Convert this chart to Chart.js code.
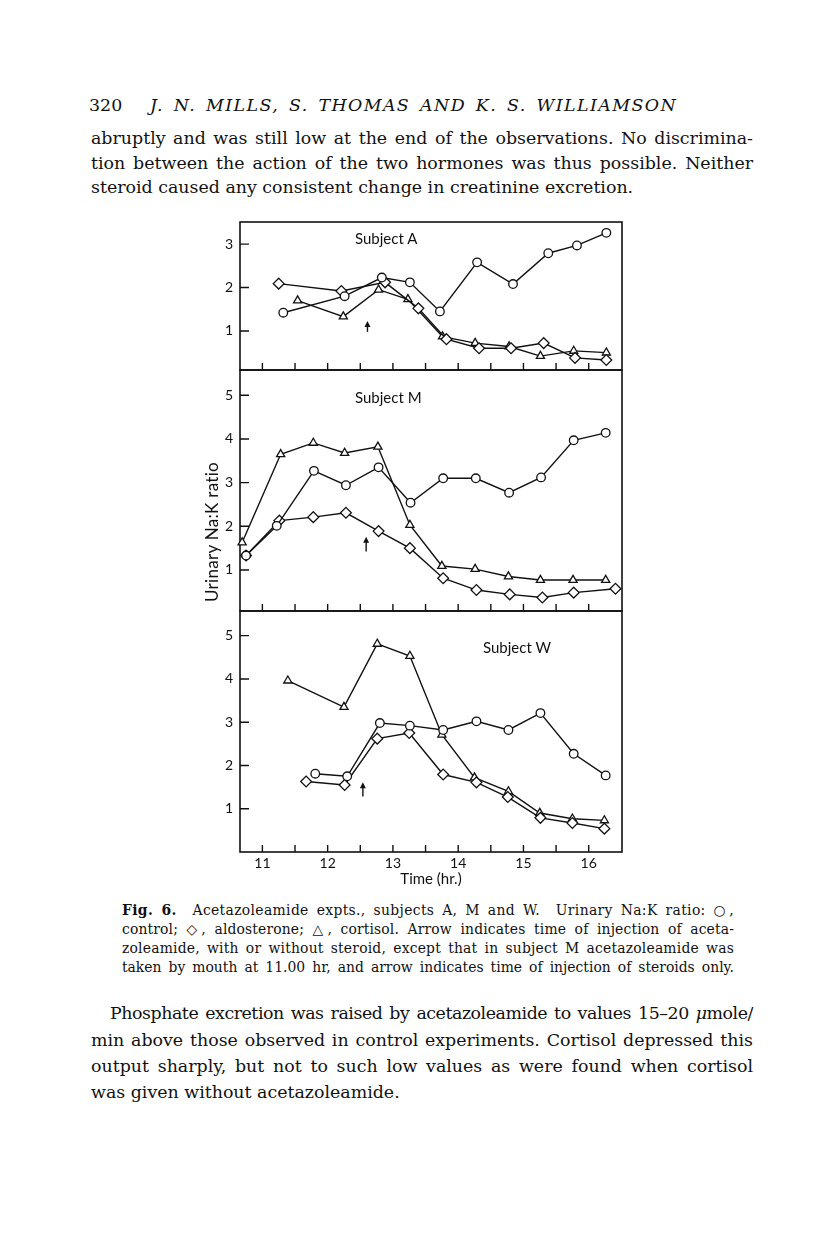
<!DOCTYPE html>
<html>
<head>
<meta charset="utf-8">
<script src="https://cdn.jsdelivr.net/npm/chart.js@4.4.1/dist/chart.umd.min.js"></script>
<style>
  body { margin: 0; width: 816px; height: 1258px; background: #fff; position: relative; overflow: hidden;
         font-family: "DejaVu Serif", serif; color: #111; }
  .line { position: absolute; text-align: justify; text-align-last: justify; white-space: normal; }
  .plain { position: absolute; white-space: nowrap; }
  .body { font-size: 17.4px; line-height: 20px; }
  .cap { font-size: 13.9px; line-height: 16px; }
  .sans { position: absolute; white-space: nowrap; font-family: Lato, sans-serif; font-size: 15px; line-height: 16px; color: #111; }
  canvas { position: absolute; }
</style>
</head>
<body>

<div class="plain body" style="left:89px; top:95px;">320</div>
<div class="line body" style="left:150px; top:95px; width:527px; letter-spacing:1.4px;"><i>J. N. MILLS, S. THOMAS AND K. S. WILLIAMSON</i></div>
<div class="line body" style="left:91px; top:128px; width:662px;">abruptly and was still low at the end of the observations. No discrimina-</div>
<div class="line body" style="left:91px; top:153px; width:662px;">tion between the action of the two hormones was thus possible. Neither</div>
<div class="plain body" style="left:91px; top:177px;">steroid caused any consistent change in creatinine excretion.</div>

<canvas id="chartA" width="450" height="170" style="left:190px; top:212px;"></canvas>
<canvas id="chartM" width="450" height="262" style="left:190px; top:360px;"></canvas>
<canvas id="chartW" width="450" height="300" style="left:190px; top:601px;"></canvas>

<div class="sans" style="left:355px; top:230px;">Subject A</div>
<div class="sans" style="left:355px; top:389px;">Subject M</div>
<div class="sans" style="left:483px; top:639px;">Subject W</div>
<div class="sans" style="left:212px; top:532px; font-size:17px; letter-spacing:0.3px; transform:translate(-50%,-50%) rotate(-90deg);">Urinary Na:K ratio</div>

<div class="line cap" style="left:122px; top:902px; width:612px; letter-spacing:0.35px;"><b>Fig. 6.</b>&nbsp; Acetazoleamide expts., subjects A, M and W.&nbsp; Urinary Na:K ratio: ○,</div>
<div class="line cap" style="left:122px; top:921px; width:612px; letter-spacing:0.15px;">control; ◇, aldosterone; △, cortisol. Arrow indicates time of injection of aceta-</div>
<div class="line cap" style="left:122px; top:940px; width:612px; letter-spacing:0.2px;">zoleamide, with or without steroid, except that in subject M acetazoleamide was</div>
<div class="line cap" style="left:122px; top:959px; width:612px;">taken by mouth at 11.00 hr, and arrow indicates time of injection of steroids only.</div>

<div class="line body" style="left:110px; top:1003px; width:643px; letter-spacing:-0.45px; word-spacing:-1px;">Phosphate excretion was raised by acetazoleamide to values 15–20&nbsp;<i>μ</i>mole/</div>
<div class="line body" style="left:91px; top:1030px; width:662px;">min above those observed in control experiments. Cortisol depressed this</div>
<div class="line body" style="left:91px; top:1056px; width:662px;">output sharply, but not to such low values as were found when cortisol</div>
<div class="plain body" style="left:91px; top:1082px;">was given without acetazoleamide.</div>

<script>
// time axis (hr) and tick values
const xTickValues = [11, 11.5, 12, 12.5, 13, 13.5, 14, 14.5, 15, 15.5, 16];
const yTicksA = [1, 2, 3];
const yTicksM = [1, 2, 3, 4, 5];
const yTicksW = [1, 2, 3, 4, 5];

// Subject A
const timeA_control = [11.32, 12.26, 12.83, 13.26, 13.72, 14.29, 14.84, 15.38, 15.82, 16.27];
const ratioA_control = [1.42, 1.80, 2.23, 2.12, 1.45, 2.58, 2.08, 2.79, 2.97, 3.26];
const timeA_aldo = [11.25, 12.21, 12.88, 13.39, 13.82, 14.32, 14.81, 15.31, 15.79, 16.27];
const ratioA_aldo = [2.09, 1.92, 2.12, 1.52, 0.81, 0.60, 0.60, 0.72, 0.38, 0.33];
const timeA_cort = [11.54, 12.24, 12.78, 13.23, 13.76, 14.26, 14.78, 15.26, 15.77, 16.27];
const ratioA_cort = [1.70, 1.33, 1.95, 1.73, 0.87, 0.72, 0.64, 0.42, 0.54, 0.50];

// Subject M
const timeM_control = [10.75, 11.22, 11.79, 12.28, 12.78, 13.27, 13.77, 14.27, 14.78, 15.27, 15.77, 16.26];
const ratioM_control = [1.33, 2.01, 3.27, 2.94, 3.35, 2.54, 3.10, 3.10, 2.77, 3.12, 3.97, 4.14];
const timeM_aldo = [10.75, 11.26, 11.78, 12.28, 12.78, 13.26, 13.77, 14.28, 14.79, 15.29, 15.77, 16.41];
const ratioM_aldo = [1.33, 2.13, 2.21, 2.31, 1.89, 1.50, 0.81, 0.54, 0.44, 0.37, 0.48, 0.57];
const timeM_cort = [10.69, 11.28, 11.78, 12.26, 12.77, 13.26, 13.75, 14.26, 14.77, 15.26, 15.76, 16.26];
const ratioM_cort = [1.63, 3.65, 3.91, 3.68, 3.82, 2.03, 1.09, 1.02, 0.85, 0.77, 0.77, 0.77];

// Subject W
const timeW_control = [11.81, 12.30, 12.80, 13.26, 13.77, 14.28, 14.77, 15.26, 15.77, 16.26];
const ratioW_control = [1.81, 1.75, 2.98, 2.92, 2.82, 3.02, 2.82, 3.21, 2.27, 1.77];
const timeW_aldo = [11.67, 12.26, 12.76, 13.25, 13.77, 14.28, 14.76, 15.26, 15.75, 16.24];
const ratioW_aldo = [1.63, 1.55, 2.62, 2.75, 1.79, 1.61, 1.27, 0.79, 0.67, 0.54];
const timeW_cort = [11.39, 12.25, 12.76, 13.26, 13.75, 14.25, 14.77, 15.25, 15.75, 16.24];
const ratioW_cort = [3.96, 3.35, 4.81, 4.53, 2.71, 1.72, 1.40, 0.90, 0.77, 0.73];

// injection arrows: [time, base, tip]
const arrowA = [12.61, 0.98, 1.23];
const arrowM = [12.59, 1.42, 1.76];
const arrowW = [12.54, 1.28, 1.61];

const INK = "#111";

function pairs(times, values) {
    return times.map((t, i) => ({ x: t, y: values[i] }));
}

function series(times, values, style) {
    const radius = { circle: 4.3, rectRot: 5.4, triangle: 4.7 }[style];
    return {
        data: pairs(times, values),
        borderColor: INK,
        borderWidth: 1.4,
        pointStyle: style,
        pointRadius: radius,
        pointBorderColor: INK,
        pointBorderWidth: 1.3,
        pointBackgroundColor: "#fff",
        tension: 0,
        clip: false
    };
}

// frame, inward ticks and the arrow
const panelFrame = {
    id: "panelFrame",
    beforeDatasetsDraw(chart, args, opts) {
        const { ctx, chartArea: a, scales: { x, y } } = chart;
        ctx.save();
        ctx.strokeStyle = INK;
        ctx.lineWidth = 1.6;
        ctx.strokeRect(a.left, a.top, a.right - a.left, a.bottom - a.top);
        ctx.lineWidth = 1.4;
        ctx.beginPath();
        xTickValues.forEach(v => {
            const px = x.getPixelForValue(v);
            ctx.moveTo(px, a.bottom);
            ctx.lineTo(px, a.bottom - 7);
        });
        opts.yTicks.forEach(v => {
            const py = y.getPixelForValue(v);
            ctx.moveTo(a.left, py);
            ctx.lineTo(a.left + 9, py);
        });
        ctx.stroke();
        ctx.restore();
    },
    afterDatasetsDraw(chart, args, opts) {
        const { ctx, scales: { x, y } } = chart;
        const [t, base, tip] = opts.arrow;
        const px = x.getPixelForValue(t);
        const y0 = y.getPixelForValue(base);
        const y1 = y.getPixelForValue(tip);
        ctx.save();
        ctx.strokeStyle = INK;
        ctx.fillStyle = INK;
        ctx.lineWidth = 1.4;
        ctx.beginPath();
        ctx.moveTo(px, y0);
        ctx.lineTo(px, y1 + 3);
        ctx.stroke();
        ctx.beginPath();
        ctx.moveTo(px, y1);
        ctx.lineTo(px - 3, y1 + 6);
        ctx.lineTo(px + 3, y1 + 6);
        ctx.closePath();
        ctx.fill();
        ctx.restore();
    }
};

function makePanel(id, datasets, yMin, yMax, yTicks, arrow, padding, showX) {
    new Chart(document.getElementById(id), {
        type: "line",
        data: { datasets },
        options: {
            responsive: false,
            animation: false,
            devicePixelRatio: 1,
            layout: { padding },
            plugins: {
                legend: { display: false },
                tooltip: { enabled: false },
                panelFrame: { yTicks, arrow }
            },
            scales: {
                x: {
                    type: "linear",
                    min: 10.657,
                    max: 16.51,
                    display: showX,
                    afterBuildTicks: s => { s.ticks = xTickValues.map(v => ({ value: v })); },
                    afterFit: s => {
                        s.height = showX ? 40 : 0;
                        s.paddingLeft = 0;
                        s.paddingRight = 0;
                    },
                    grid: { display: false, drawTicks: false, tickLength: 0 },
                    border: { display: false },
                    ticks: {
                        autoSkip: false,
                        maxRotation: 0,
                        padding: 3,
                        color: INK,
                        font: { family: "Lato", size: 14 },
                        callback: v => Number.isInteger(v) ? String(v) : ""
                    },
                    title: {
                        display: true,
                        text: "Time (hr.)",
                        color: INK,
                        padding: { top: 0, bottom: 4 },
                        font: { family: "Lato", size: 15 }
                    }
                },
                y: {
                    type: "linear",
                    min: yMin,
                    max: yMax,
                    afterBuildTicks: s => { s.ticks = yTicks.map(v => ({ value: v })); },
                    afterFit: s => {
                        s.width = 50;
                        s.paddingTop = 0;
                        s.paddingBottom = 0;
                    },
                    grid: { display: false, drawTicks: false, tickLength: 0 },
                    border: { display: false },
                    ticks: {
                        padding: 7,
                        color: INK,
                        font: { family: "Lato", size: 14 }
                    }
                }
            }
        },
        plugins: [panelFrame]
    });
}

makePanel("chartA", [
    series(timeA_control, ratioA_control, "circle"),
    series(timeA_aldo, ratioA_aldo, "rectRot"),
    series(timeA_cort, ratioA_cort, "triangle")
], 0.10, 3.51, yTicksA, arrowA, { top: 10, bottom: 12, left: 0, right: 18 }, false);

makePanel("chartM", [
    series(timeM_control, ratioM_control, "circle"),
    series(timeM_aldo, ratioM_aldo, "rectRot"),
    series(timeM_cort, ratioM_cort, "triangle")
], 0.06, 5.58, yTicksM, arrowM, { top: 10, bottom: 11, left: 0, right: 18 }, false);

makePanel("chartW", [
    series(timeW_control, ratioW_control, "circle"),
    series(timeW_aldo, ratioW_aldo, "rectRot"),
    series(timeW_cort, ratioW_cort, "triangle")
], 0, 5.57, yTicksW, arrowW, { top: 10, bottom: 9, left: 0, right: 18 }, true);
</script>
</body>
</html>
